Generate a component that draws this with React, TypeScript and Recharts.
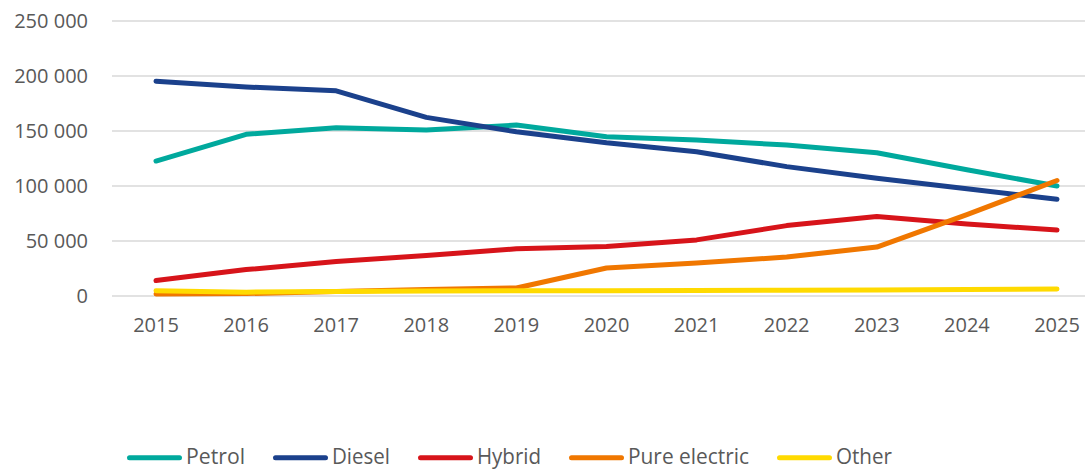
import { LineChart, Line, XAxis, YAxis, CartesianGrid, Legend } from 'recharts'

const years = ['2015', '2016', '2017', '2018', '2019', '2020', '2021', '2022', '2023', '2024', '2025']
const petrol = [122700, 147000, 153000, 150800, 155400, 144800, 141800, 137200, 130300, 114800, 100000]
const diesel = [195300, 190000, 186500, 162400, 149300, 139300, 131200, 117600, 107000, 97500, 88000]
const hybrid = [14000, 24000, 31400, 36800, 42900, 45000, 51000, 64000, 72200, 65500, 60000]
const pureElectric = [1800, 2200, 4000, 6000, 7300, 25400, 29900, 35400, 44500, 74000, 105000]
const other = [4800, 3500, 4000, 4600, 4800, 4800, 5000, 5200, 5500, 5900, 6300]
const yTicks = [0, 50000, 100000, 150000, 200000, 250000]

const series = [
  { key: 'petrol', name: 'Petrol', color: '#00A99D', textWidth: 59 },
  { key: 'diesel', name: 'Diesel', color: '#1B418C', textWidth: 58 },
  { key: 'hybrid', name: 'Hybrid', color: '#D7141A', textWidth: 64 },
  { key: 'pureElectric', name: 'Pure electric', color: '#F07700', textWidth: 121 },
  { key: 'other', name: 'Other', color: '#FFDA00', textWidth: 56 },
]

const data = years.map((year, i) => ({
  year,
  petrol: petrol[i],
  diesel: diesel[i],
  hybrid: hybrid[i],
  pureElectric: pureElectric[i],
  other: other[i],
}))

const font = '"Open Sans", sans-serif'
const textColor = '#595959'

const formatThousands = (v: number) => String(v).replace(/\B(?=(\d{3})+(?!\d))/g, ' ')

function ChartLegend() {
  return (
    <div style={{ display: 'flex', gap: 28, paddingLeft: 127, height: 30, width: 1085, boxSizing: 'border-box' }}>
      {series.map((s) => (
        <svg key={s.key} width={59 + s.textWidth} height={30} style={{ display: 'block', overflow: 'visible' }}>
          <line x1={2.5} x2={52.5} y1={18.7} y2={18.7} stroke={s.color} strokeWidth={5} strokeLinecap="round" />
          <text
            x={59}
            y={25}
            fontSize={22}
            fontFamily={font}
            fill={textColor}
            textLength={s.textWidth}
            lengthAdjust="spacingAndGlyphs"
          >
            {s.name}
          </text>
        </svg>
      ))}
    </div>
  )
}

export default function App() {
  return (
    <div style={{ position: 'absolute', left: 0, top: 0, background: '#fff' }}>
      <LineChart width={1085} height={469} data={data} margin={{ top: 21, right: 0, bottom: 0, left: 0 }}>
        <CartesianGrid vertical={false} stroke="#D9D9D9" strokeWidth={1.5} />
        <XAxis
          dataKey="year"
          axisLine={false}
          tickLine={false}
          tickSize={0}
          tickMargin={22}
          height={143}
          padding={{ left: 44, right: 28 }}
          interval={0}
          tick={{ fontSize: 20, fontFamily: font, fill: textColor }}
        />
        <YAxis
          domain={[0, 250000]}
          ticks={yTicks}
          width={112}
          axisLine={false}
          tickLine={false}
          tickSize={0}
          tickMargin={24}
          tickFormatter={formatThousands}
          tick={{ fontSize: 20, fontFamily: font, fill: textColor }}
        />
        <Legend verticalAlign="bottom" content={() => <ChartLegend />} />
        {series.map((s) => (
          <Line
            key={s.key}
            type="linear"
            dataKey={s.key}
            name={s.name}
            stroke={s.color}
            strokeWidth={5}
            strokeLinecap="round"
            strokeLinejoin="round"
            dot={false}
            activeDot={false}
            isAnimationActive={false}
          />
        ))}
      </LineChart>
    </div>
  )
}
